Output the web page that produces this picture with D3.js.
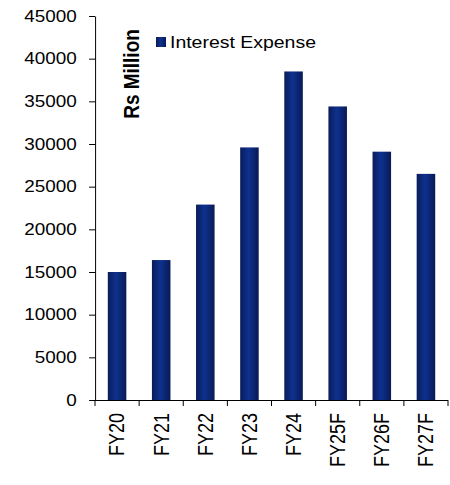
<!DOCTYPE html>
<html>
<head>
<meta charset="utf-8">
<script src="https://cdn.jsdelivr.net/npm/d3@7"></script>
<style>
  body { margin: 0; background: #fff; }
  svg { display: block; font-family: "Liberation Sans", Arial, sans-serif; }
  .axis path, .axis line { stroke: #000; vector-effect: non-scaling-stroke; }
  .axis text { fill: #000; }
</style>
</head>
<body>
<div id="chart"></div>
<script>
// data
var years = ["FY20", "FY21", "FY22", "FY23", "FY24", "FY25F", "FY26F", "FY27F"];
var interestExpense = [15000, 16400, 22900, 29600, 38500, 34400, 29100, 26500];
var yTicks = [0, 5000, 10000, 15000, 20000, 25000, 30000, 35000, 40000, 45000];
var seriesName = "Interest Expense";
var yLabel = "Rs Million";

var data = years.map(function(d, i) { return {year: d, value: interestExpense[i]}; });

// the original picture is a bit stretched horizontally
var sx = 1.18;
var outerW = 450, outerH = 485;

var svg = d3.select("#chart").append("svg")
    .attr("width", outerW)
    .attr("height", outerH);

var defs = svg.append("defs");
var grad = defs.append("linearGradient")
    .attr("id", "barGrad")
    .attr("x1", "0%").attr("x2", "100%")
    .attr("y1", "0%").attr("y2", "0%");
grad.append("stop").attr("offset", "0%").attr("stop-color", "#0a1c58");
grad.append("stop").attr("offset", "45%").attr("stop-color", "#0e318f");
grad.append("stop").attr("offset", "100%").attr("stop-color", "#091a55");

var g = svg.append("g")
    .attr("transform", "scale(" + sx + ",1)");

var plotLeft = 95 / sx, plotRight = 448 / sx;
var plotTop = 16, plotBottom = 400;

var x = d3.scaleBand()
    .domain(years)
    .range([plotLeft, plotRight])
    .padding(0);

var y = d3.scaleLinear()
    .domain([0, 45000])
    .range([plotBottom, plotTop]);

var barW = x.bandwidth() * 0.42;

// bars
g.selectAll(".bar")
    .data(data)
    .enter()
    .append("rect")
    .attr("class", "bar")
    .attr("x", function(d) { return x(d.year) + (x.bandwidth() - barW) / 2; })
    .attr("width", barW)
    .attr("y", function(d) { return y(d.value); })
    .attr("height", function(d) { return y(0) - y(d.value); })
    .attr("fill", "url(#barGrad)");

// y axis
var yAxis = d3.axisLeft(y)
    .tickValues(yTicks)
    .tickSize(5)
    .tickSizeOuter(0)
    .tickPadding(10.5)
    .tickFormat(d3.format("d"));

g.append("g")
    .attr("class", "axis y-axis")
    .attr("transform", "translate(" + plotLeft + ",0)")
    .call(yAxis)
    .call(function(s) {
        s.selectAll("text").attr("font-size", 16).attr("font-family", "Liberation Sans, Arial, sans-serif");
    });

// x axis (labels at band centres, ticks on band edges)
var xAxis = d3.axisBottom(x)
    .tickSize(0)
    .tickSizeOuter(0)
    .tickPadding(0);

var xg = g.append("g")
    .attr("class", "axis x-axis")
    .attr("transform", "translate(0," + plotBottom + ")")
    .call(xAxis);

xg.select(".domain").attr("d", "M" + plotLeft + ",0.5H" + plotRight);

xg.selectAll(".tick text")
    .attr("font-size", 18)
    .attr("font-family", "Liberation Sans, Arial, sans-serif")
    .attr("transform", "rotate(-90)")
    .attr("text-anchor", "end")
    .attr("x", -13)
    .attr("y", 0)
    .attr("dy", "0.35em");

var edges = years.map(function(d) { return x(d); }).concat([plotRight]);
xg.selectAll(".edge")
    .data(edges)
    .enter()
    .append("line")
    .attr("class", "edge")
    .attr("x1", function(d) { return d; })
    .attr("x2", function(d) { return d; })
    .attr("y1", 0)
    .attr("y2", 6);

// y label
g.append("text")
    .attr("transform", "translate(" + (139 / sx) + ",74) rotate(-90)")
    .attr("text-anchor", "middle")
    .attr("font-size", 19)
    .attr("font-weight", "bold")
    .attr("fill", "#000")
    .text(yLabel);

// legend
var legend = g.append("g")
    .attr("transform", "translate(" + (156 / sx) + ",37)");

legend.append("rect")
    .attr("width", 10 / sx)
    .attr("height", 10)
    .attr("fill", "url(#barGrad)");

legend.append("text")
    .attr("x", 14 / sx)
    .attr("y", 11)
    .attr("font-size", 16.5)
    .attr("fill", "#000")
    .text(seriesName);
</script>
</body>
</html>
